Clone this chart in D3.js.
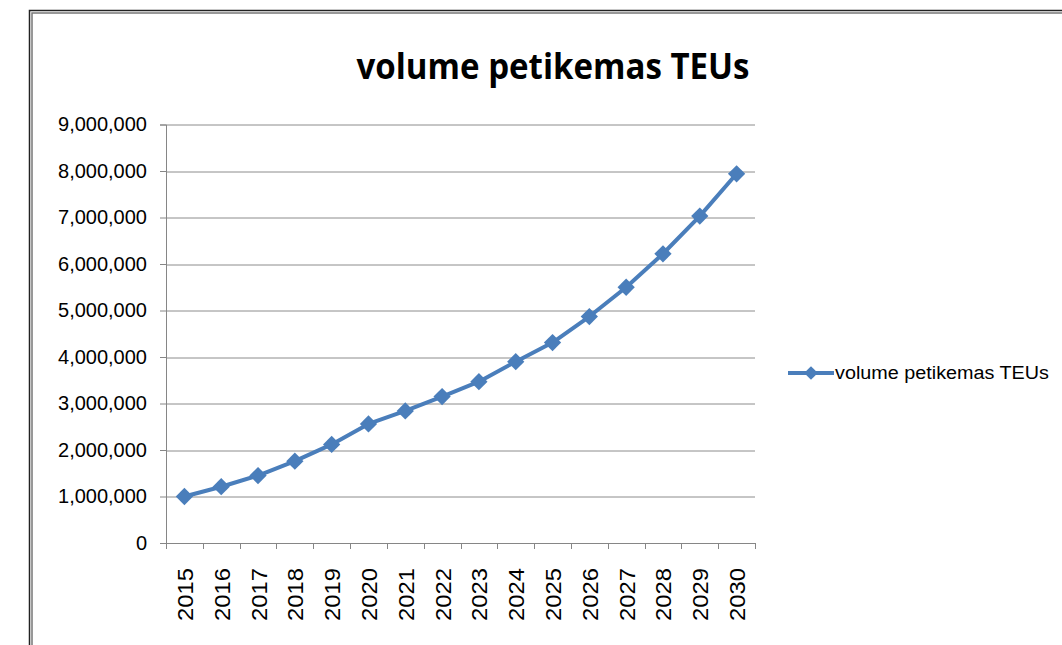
<!DOCTYPE html>
<html>
<head>
<meta charset="utf-8">
<script src="https://cdn.jsdelivr.net/npm/d3@7"></script>
<style>
  body { margin: 0; background: #fff; }
  text { font-family: "Liberation Sans", Arial, sans-serif; fill: #000; }
</style>
</head>
<body>
<div id="chart"></div>
<script>
// data
var years = ["2015","2016","2017","2018","2019","2020","2021","2022",
             "2023","2024","2025","2026","2027","2028","2029","2030"];
var volumes = [1000000, 1210000, 1450000, 1760000, 2120000, 2560000, 2840000, 3150000,
               3470000, 3900000, 4310000, 4870000, 5500000, 6220000, 7030000, 7940000];
var yTicks = [0, 1000000, 2000000, 3000000, 4000000, 5000000, 6000000, 7000000, 8000000, 9000000];
var seriesName = "volume petikemas TEUs";
var chartTitle = "volume petikemas TEUs";

var svgWidth = 1062, svgHeight = 645;
var margin = {top: 124.5, left: 166, right: 307, bottom: 102};
var width = svgWidth - margin.left - margin.right;
var height = svgHeight - margin.top - margin.bottom;
var blue = "#4a7ebb";

var svg = d3.select("#chart").append("svg")
  .attr("width", svgWidth)
  .attr("height", svgHeight);

// outer frame of the chart object
svg.append("path")
  .attr("d", "M29.5,650 V10.5 H1070")
  .attr("fill", "none").attr("stroke", "#222").attr("stroke-width", 1.5);
svg.append("path")
  .attr("d", "M32,650 V13 H1070")
  .attr("fill", "none").attr("stroke", "#777").attr("stroke-width", 1.5);

// title
svg.append("text")
  .attr("x", 553).attr("y", 79)
  .attr("text-anchor", "middle")
  .attr("textLength", 393).attr("lengthAdjust", "spacingAndGlyphs")
  .style("font-family", "'Open Sans', sans-serif")
  .style("font-size", "35px").style("font-weight", "bold")
  .text(chartTitle);

var g = svg.append("g")
  .attr("transform", `translate(${margin.left}, ${margin.top})`);

var x = d3.scaleBand().domain(years).range([0, width]);
var y = d3.scaleLinear().domain([0, 9000000]).range([height, 0]);

// gridlines
g.selectAll(".grid").data(yTicks.filter(d => d > 0)).enter()
  .append("line")
  .attr("x1", 0).attr("x2", width)
  .attr("y1", d => Math.round(y(d)) + 0.5).attr("y2", d => Math.round(y(d)) + 0.5)
  .attr("stroke", "#8c8c8c").attr("stroke-width", 1);

// y axis
var leftAxis = d3.axisLeft(y).tickValues(yTicks).tickSize(6).tickPadding(13)
  .tickFormat(d3.format(","));
var yAxis = g.append("g").call(leftAxis);
yAxis.select(".domain").attr("stroke", "#868686");
yAxis.selectAll(".tick line").attr("stroke", "#868686");
yAxis.selectAll("text")
  .style("font-family", "'Liberation Sans', Arial, sans-serif")
  .style("font-size", "20px").attr("fill", "#1a1a1a");

// x axis, ticks sit on category boundaries
var xAxisG = g.append("g").attr("transform", `translate(0, ${height})`);
xAxisG.append("line")
  .attr("x1", 0).attr("x2", width).attr("y1", 0.5).attr("y2", 0.5)
  .attr("stroke", "#868686");
xAxisG.selectAll(".xtick").data(years.concat(["end"])).enter()
  .append("line")
  .attr("x1", (d, i) => Math.round(i * x.step()) + 0.5)
  .attr("x2", (d, i) => Math.round(i * x.step()) + 0.5)
  .attr("y1", 0).attr("y2", 6)
  .attr("stroke", "#868686");
xAxisG.selectAll(".xlab").data(years).enter()
  .append("text")
  .attr("transform", d => `translate(${x(d) + x.bandwidth() / 2 + 8.5}, 25) rotate(-90)`)
  .attr("text-anchor", "end")
  .attr("textLength", 53).attr("lengthAdjust", "spacingAndGlyphs")
  .attr("fill", "#1a1a1a")
  .style("font-size", "22px")
  .text(d => d);

// the line itself
var pts = years.map((d, i) => [x(d) + x.bandwidth() / 2, y(volumes[i])]);
g.append("path")
  .datum(pts)
  .attr("d", d3.line())
  .attr("fill", "none")
  .attr("stroke", blue)
  .attr("stroke-width", 4)
  .attr("stroke-linejoin", "round");

var diamond = d3.symbol().type(d3.symbolDiamond2).size(190);
g.selectAll(".marker").data(pts).enter()
  .append("path")
  .attr("d", diamond)
  .attr("transform", d => `translate(${d[0]}, ${d[1]})`)
  .attr("fill", blue);

// legend
var legend = svg.append("g").attr("transform", "translate(788, 373)");
legend.append("line")
  .attr("x1", 0).attr("x2", 46).attr("y1", 0).attr("y2", 0)
  .attr("stroke", blue).attr("stroke-width", 4);
legend.append("path")
  .attr("d", d3.symbol().type(d3.symbolDiamond2).size(120))
  .attr("transform", "translate(23, 0)")
  .attr("fill", blue);
legend.append("text")
  .attr("x", 47).attr("y", 6)
  .attr("textLength", 214).attr("lengthAdjust", "spacingAndGlyphs")
  .attr("fill", "#1a1a1a")
  .style("font-size", "18px")
  .text(seriesName);
</script>
</body>
</html>
